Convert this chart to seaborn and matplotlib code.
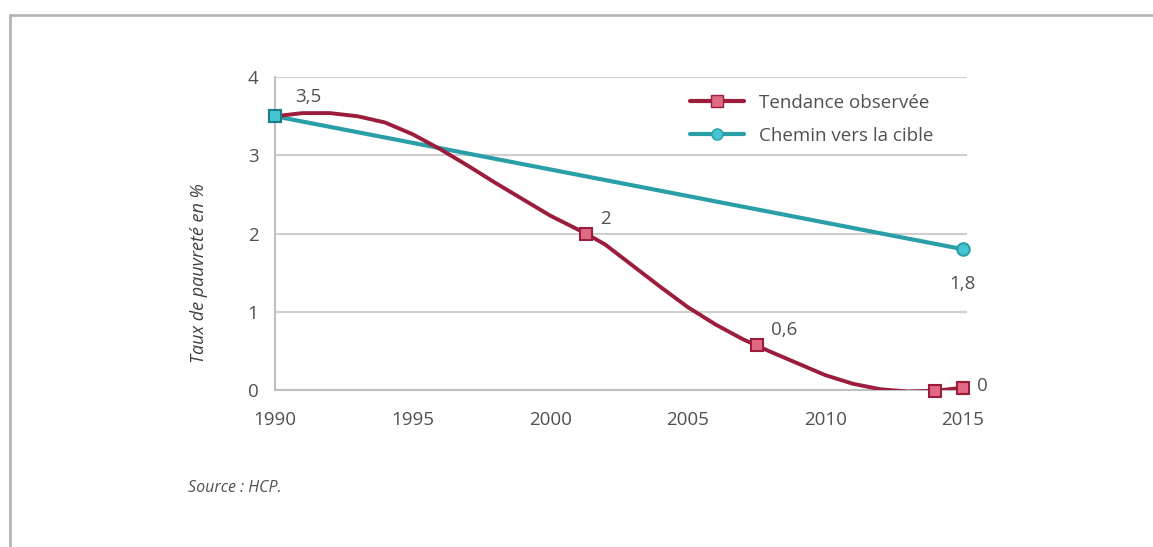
import matplotlib
matplotlib.use("Agg")
import matplotlib.pyplot as plt
from matplotlib.lines import Line2D
import seaborn as sns

# Valeurs (taux de pauvreté en %)
# courbe lissée "Tendance observée", lue point par point
curve_years = [1990, 1991, 1992, 1993, 1994, 1995, 1996, 1997, 1998, 1999,
               2000, 2001.3, 2002, 2003, 2004, 2005, 2006, 2007, 2007.5,
               2008, 2009, 2010, 2011, 2012, 2013, 2014, 2015]
curve_values = [3.50, 3.54, 3.54, 3.50, 3.42, 3.27, 3.08, 2.87, 2.65, 2.44,
                2.23, 2.00, 1.86, 1.59, 1.32, 1.06, 0.84, 0.65, 0.57,
                0.49, 0.34, 0.19, 0.08, 0.01, -0.02, -0.01, 0.03]

# points marqués
obs_years = [1990, 2001.3, 2007.5, 2014, 2015]
obs_values = [3.5, 2.0, 0.57, -0.01, 0.03]

target_years = [1990, 2015]
target_values = [3.5, 1.8]

labels = ["3,5", "2", "0,6", "1,8", "0"]
label_years = [1991.2, 2002.0, 2008.5, 2015.0, 2015.7]
label_values = [3.74, 2.19, 0.77, 1.36, 0.05]

x_ticks = [1990, 1995, 2000, 2005, 2010, 2015]
y_ticks = [0, 1, 2, 3, 4]

red = "#9c1c3c"
red_fill = "#e06a84"
teal = "#2a9fa8"
teal_fill = "#45c5d3"
txt = "#505050"
fs = 13.5

sns.set_theme(style="white")
plt.rcParams["font.family"] = ["Open Sans", "DejaVu Sans"]

fig = plt.figure(figsize=(11.53, 5.47), dpi=100)
ax = fig.add_axes([0.2385, 0.287, 0.6002, 0.572])

sns.lineplot(x=target_years, y=target_values, ax=ax, color=teal, lw=3.0,
             zorder=3)
sns.lineplot(x=curve_years, y=curve_values, ax=ax, color=red, lw=2.8,
             sort=False, zorder=4)
for ln in ax.lines:
    ln.set_solid_joinstyle("round")
    ln.set_solid_capstyle("round")
ax.plot(obs_years, obs_values, ls="none", marker="s", ms=8,
        mfc=red_fill, mec=red, mew=1.5, zorder=5, clip_on=False)
ax.plot(target_years[-1:], target_values[-1:], ls="none", marker="o", ms=9,
        mfc=teal_fill, mec=teal, mew=1.5, zorder=6, clip_on=False)
ax.plot(target_years[:1], target_values[:1], ls="none", marker="s", ms=9,
        mfc=teal_fill, mec="#1f7d86", mew=1.5, zorder=6, clip_on=False)

for lab, lx, ly in zip(labels, label_years, label_values):
    ax.text(lx, ly, lab, ha="center", va="center", fontsize=fs, color=txt)

ax.set_xlim(1990, 2015.15)
ax.set_ylim(0, 4)
ax.set_xticks(x_ticks)
ax.set_yticks(y_ticks)
ax.tick_params(axis="both", length=0, labelsize=fs, labelcolor=txt)
ax.tick_params(axis="y", pad=12)
ax.tick_params(axis="x", pad=15)
ax.yaxis.grid(True, color="#cfcfcf", lw=1.5)
ax.set_axisbelow(True)
for side in ["top", "right"]:
    ax.spines[side].set_visible(False)
for side in ["left", "bottom"]:
    ax.spines[side].set_color("#c0c0c0")
    ax.spines[side].set_linewidth(1.5)

ax.set_ylabel("Taux de pauvreté en %", fontsize=13, style="italic",
              color="#404040")
ax.yaxis.set_label_coords(-0.097, 0.374)
ax.set_xlabel("")

handles = [
    Line2D([], [], color=red, lw=3, marker="s", ms=8, mfc=red_fill, mec=red),
    Line2D([], [], color=teal, lw=3, marker="o", ms=8, mfc=teal_fill, mec=teal),
]
ax.legend(handles, ["Tendance observée", "Chemin vers la cible"],
          loc="upper left", bbox_to_anchor=(0.575, 1.0), frameon=False,
          fontsize=fs, handlelength=2.9, handletextpad=0.8, labelspacing=0.8,
          labelcolor=txt)

fig.text(188 / 1153, 1 - 488 / 547, "Source : HCP.", fontsize=11.5,
         style="italic", color="#505050", va="center")

# cadre de la figure
fig.add_artist(Line2D([10 / 1153, 1], [1 - 15 / 547, 1 - 15 / 547],
                      transform=fig.transFigure, color="#b5b5b5", lw=2))
fig.add_artist(Line2D([10 / 1153, 10 / 1153], [0, 1 - 15 / 547],
                      transform=fig.transFigure, color="#b5b5b5", lw=2))

fig.savefig("out.png", dpi=100)
